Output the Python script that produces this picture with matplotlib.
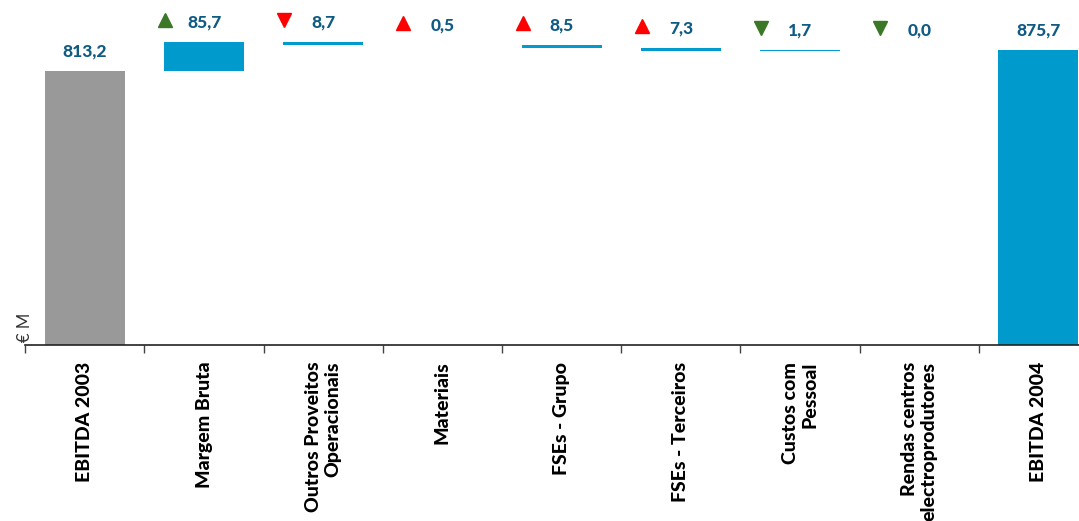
import matplotlib
matplotlib.use("Agg")
import matplotlib.pyplot as plt
from matplotlib.transforms import offset_copy

# EBITDA bridge 2003 -> 2004 (€ M)
categories = ["EBITDA 2003", "Margem Bruta", "Outros Proveitos\nOperacionais",
              "Materiais", "FSEs - Grupo", "FSEs - Terceiros",
              "Custos com\nPessoal", "Rendas centros\nelectroprodutores", "EBITDA 2004"]
ebitda_start = 813.2
ebitda_end = 875.7
# signed effect of each item on EBITDA
effects = [85.7, -8.7, -0.5, -8.5, -7.3, 1.7, 0.0]
# direction of the underlying line item (revenue / cost went up or down)
item_direction = ["up", "down", "up", "up", "up", "down", "down"]

GREY = "#999999"
BLUE = "#009acd"
LABEL = "#0f5b84"
GREEN = "#3a7826"
RED = "#ff0000"

plt.rcParams["font.family"] = ["Lato", "DejaVu Sans"]

W, H = 1079, 521
fig = plt.figure(figsize=(W / 100, H / 100), dpi=100)
cat_w = 119.2
ax = fig.add_axes([25.3 / W, 1 - 345 / H, 9 * cat_w / W, 345 / H])
ax.set_xlim(0, 9)
ax.set_ylim(0, 1024)

bar_w = 80 / cat_w
xs = [i + 0.5 for i in range(len(categories))]


def fmt(v):
    return f"{abs(v):.1f}".replace(".", ",")


def value_label(x, top, v):
    ax.annotate(fmt(v), (x, top), xytext=(0, 14), textcoords="offset points",
                ha="center", va="center", fontsize=12.5, fontweight=900,
                color=LABEL)


# opening total
ax.bar(xs[0], ebitda_start, width=bar_w, color=GREY)
value_label(xs[0], ebitda_start, ebitda_start)

# floating deltas
running = ebitda_start
for i, (d, direc) in enumerate(zip(effects, item_direction), start=1):
    lo = min(running, running + d)
    hi = max(running, running + d)
    ax.bar(xs[i], hi - lo, bottom=lo, width=bar_w, color=BLUE, linewidth=0)
    value_label(xs[i], hi, d)
    marker = "^" if direc == "up" else "v"
    colour = GREEN if d >= 0 else RED
    tf = offset_copy(ax.transData, fig=fig, x=-39, y=22, units="dots")
    ax.plot([xs[i]], [hi], marker=marker, markersize=9.5, color=colour,
            linestyle="none", transform=tf, clip_on=False)
    running += d

# closing total
ax.bar(xs[-1], ebitda_end, width=bar_w, color=BLUE)
value_label(xs[-1], ebitda_end, ebitda_end)

# axes styling
for s in ("top", "right", "left"):
    ax.spines[s].set_visible(False)
ax.spines["bottom"].set_color("#222222")
ax.spines["bottom"].set_linewidth(1.2)
ax.set_yticks([])

ax.set_xticks(xs)
ax.set_xticklabels(categories, rotation=90, fontsize=14, fontweight=900,
                   va="top", ha="center")
for lbl in ax.get_xticklabels():
    lbl.set_multialignment("right")
    lbl.set_linespacing(1.2)
ax.tick_params(axis="x", which="major", length=0, pad=12)
ax.set_xticks(range(0, 10), minor=True)
ax.tick_params(axis="x", which="minor", length=6, width=1, color="#444444")

ax.text(0.0, 0.008, "€ M", transform=ax.get_xaxis_transform(), rotation=90,
        ha="center", va="bottom", fontsize=12, color="#333333")

fig.savefig("out.png", dpi=100)
